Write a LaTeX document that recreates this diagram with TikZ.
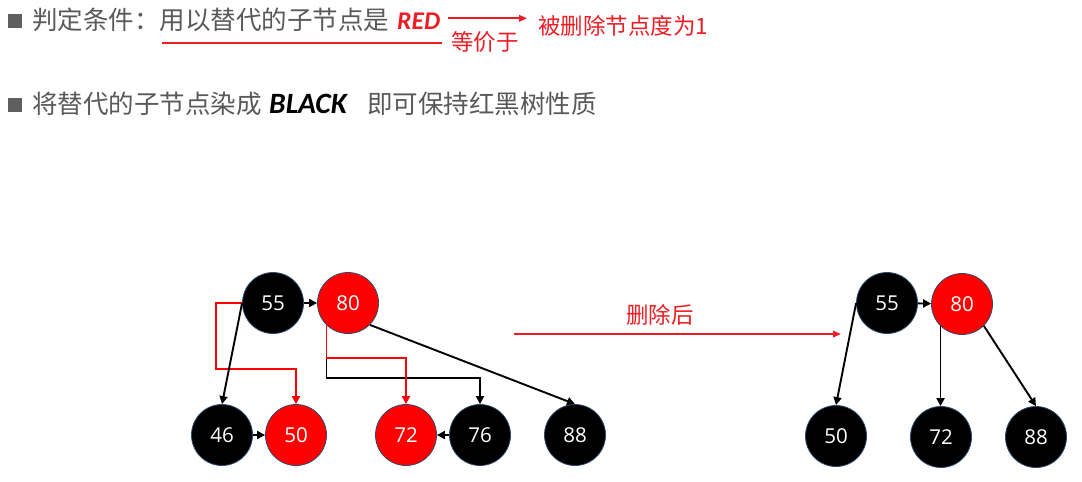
\documentclass[tikz,border=0pt]{standalone}
\usepackage{fontspec}
\setmainfont{Noto Sans CJK SC}
\newfontfamily\cjk{Noto Sans CJK SC}
\newfontfamily\latb{Carlito}
\newfontfamily\numfont{Open Sans}
\usetikzlibrary{arrows.meta}
\definecolor{txtgray}{HTML}{595959}
\definecolor{bulgray}{HTML}{5F5F5F}
\definecolor{myred}{HTML}{EE1C25}
\definecolor{nodered}{HTML}{FF0000}
\definecolor{rim}{HTML}{2E4A6B}
\begin{document}
\begin{tikzpicture}[x=1pt,y=-1pt,
  bn/.style={circle, fill=black, draw=rim, line width=0.8pt, minimum size=61pt, inner sep=0pt,
             text=white, font=\numfont\fontsize{20.5}{20.5}\selectfont},
  rn/.style={bn, fill=nodered},
  arr/.style={-{Triangle[length=8pt,width=8pt]}, line width=1.9pt, draw=black},
  tarr/.style={arr, draw=nodered},
  harr/.style={-{Triangle[length=8pt,width=6.5pt]}, line width=1.9pt, draw=myred},
  bigtxt/.style={inner sep=0pt, anchor=base west, text=txtgray, font=\cjk\fontsize{25.5}{30}\selectfont},
  redtxt/.style={inner sep=0pt, text=myred, font=\cjk\fontsize{22.5}{26}\selectfont},
  bullet/.style={fill=bulgray}
]
\useasboundingbox (0,0) rectangle (1082,482);

% ---- header line 1
\fill[bullet] (8,14) rectangle (22,27.5);
\node[bigtxt] (t1) at (32,29) {判定条件：用以替代的子节点是};
\node[inner sep=0pt, anchor=base west, text=myred, font=\latb\bfseries\itshape\fontsize{25.5}{30}\selectfont] (red) at (397,29) {RED};
\node[redtxt, anchor=base west] (deg) at (538,34) {被删除节点度为1};
\node[redtxt, anchor=base west] (eq) at (451,50) {等价于};
\coordinate (u1) at (162,42.5);
\coordinate (u2) at (442,42.5);
\draw[myred, line width=2pt] (u1) -- (u2);
\coordinate (h1) at (448,18.3);
\coordinate (h2) at (527,18.3);
\draw[harr] (h1) -- (h2);

% ---- header line 2
\fill[bullet] (8,97.5) rectangle (22,111.5);
\node[bigtxt] (t2) at (32,113) {将替代的子节点染成};
\node[inner sep=0pt, anchor=base west, text=black, font=\latb\bfseries\itshape\fontsize{29.5}{32}\selectfont] (black) at (269,113) {BLACK};
\node[bigtxt] (t3) at (367,113) {即可保持红黑树性质};

% ---- left tree
\node[bn] (a55) at (273,303) {55};
\node[rn] (a80) at (348,303) {80};
\node[bn] (a46) at (222,435) {46};
\node[rn] (a50) at (296,435) {50};
\node[rn] (a72) at (406,435) {72};
\node[bn] (a76) at (480,435) {76};
\node[bn] (a88) at (575,435) {88};

\draw[arr] (a55) -- (a80);
\draw[arr] (a46) -- (a50);
\draw[arr] (a76) -- (a72);
\draw[arr] (a80.226) -- ++(0,53) -| (a76.north);
\draw[arr] (a80.315) -- (a88.north);
\draw[tarr] (a55.west) -- ++(-26,0) -- ++(0,66) -| (a50.north);
\draw[tarr] (a80.226) -- ++(0,33) -| (a72.north);
\draw[arr] (a55.west) -- (a46.north);

% ---- middle arrow
\coordinate (m1) at (514,334);
\coordinate (m2) at (841,334);
\draw[harr] (m1) -- (m2);
\node[redtxt, anchor=base] (lbl) at (660,323) {删除后};

% ---- right tree
\node[bn] (b55) at (887,303) {55};
\node[rn] (b80) at (962,304) {80};
\node[bn] (b50) at (836,436) {50};
\node[bn] (b72) at (941,437) {72};
\node[bn] (b88) at (1036,437) {88};

\draw[arr] (b55) -- (b80);
\draw[arr] (b55.west) -- (b50.north);
\draw[arr] (b80.226) -- (b80.226 |- b72.north);
\draw[arr] (b80.315) -- (b88.north);
\end{tikzpicture}
\end{document}
